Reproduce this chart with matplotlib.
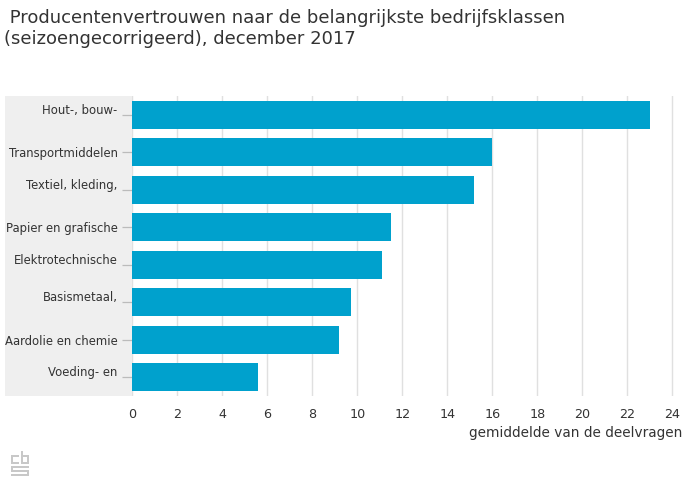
import matplotlib
matplotlib.use("Agg")
import matplotlib.pyplot as plt
from matplotlib.patches import Rectangle
from matplotlib.transforms import ScaledTranslation

plt.rcParams['font.family'] = ['DejaVu Sans']

categories = ["Hout-, bouw-", "Transportmiddelen", "Textiel, kleding,",
              "Papier en grafische", "Elektrotechnische", "Basismetaal,",
              "Aardolie en chemie", "Voeding- en"]
values = [23.0, 16.0, 15.2, 11.5, 11.1, 9.7, 9.2, 5.6]
shifted = [True, False, True, False, True, True, False, True]
xticks = list(range(0, 25, 2))

W, H = 693, 500
fig = plt.figure(figsize=(W / 100, H / 100), dpi=100)

left_px, right_px, top_px, bot_px = 132.3, 679.0, 96, 396
ax = fig.add_axes([left_px / W, 1 - bot_px / H, (right_px - left_px) / W, (bot_px - top_px) / H])

# gray label band
ax.add_patch(Rectangle((5 / W, 1 - bot_px / H), (left_px - 5) / W, (bot_px - top_px) / H,
                       transform=fig.transFigure, facecolor='#EFEFEF', edgecolor='none',
                       zorder=0, clip_on=False))

y = list(range(len(categories)))
ax.barh(y, values, height=0.75, color='#00A1CD', zorder=3)
ax.set_ylim(len(categories) - 0.5, -0.5)
ax.set_xlim(0, 24.3)
ax.set_facecolor('none')
for s in ax.spines.values():
    s.set_visible(False)
ax.set_xticks(xticks)
ax.set_xticklabels([str(t) for t in xticks])
ax.grid(axis='x', color='#E0E0E0', linewidth=1, zorder=1)
ax.set_axisbelow(False)
ax.tick_params(axis='x', length=0, pad=9, labelsize=9.2, labelcolor='#333333')
ax.set_yticks(y)
ax.set_yticklabels(categories)
ax.tick_params(axis='y', length=7, width=0.9, color='#BBBBBB', pad=3.5, labelsize=8.4, labelcolor='#333333')
for lab, sh in zip(ax.get_yticklabels(), shifted):
    if sh:
        lab.set_transform(lab.get_transform() + ScaledTranslation(0, 6 / 100, fig.dpi_scale_trans))

fig.text(682 / W, 1 - 433 / H, "gemiddelde van de deelvragen", ha='right', va='center',
         fontsize=9.8, color='#333333')

fig.text(4 / W, 1 - 18 / H, " Producentenvertrouwen naar de belangrijkste bedrijfsklassen",
         ha='left', va='center', fontsize=13, color='#333333')
fig.text(4 / W, 1 - 39 / H, "(seizoengecorrigeerd), december 2017",
         ha='left', va='center', fontsize=13, color='#333333')

# simple logo approximation
for (x0, y0, w, h) in [(11, 455, 8, 2), (11, 455, 2, 9), (11, 462, 8, 2),
                       (21, 451, 2, 13), (21, 455, 8, 2), (27, 455, 2, 9), (21, 462, 8, 2),
                       (11, 466, 18, 2), (11, 466, 2, 6), (11, 470, 18, 2), (27, 470, 2, 6), (11, 474, 18, 2)]:
    fig.patches.append(Rectangle((x0 / W, 1 - (y0 + h) / H), w / W, h / H, transform=fig.transFigure,
                                 facecolor='#C8C8C8', edgecolor='none'))

fig.savefig("out.png", dpi=100)
